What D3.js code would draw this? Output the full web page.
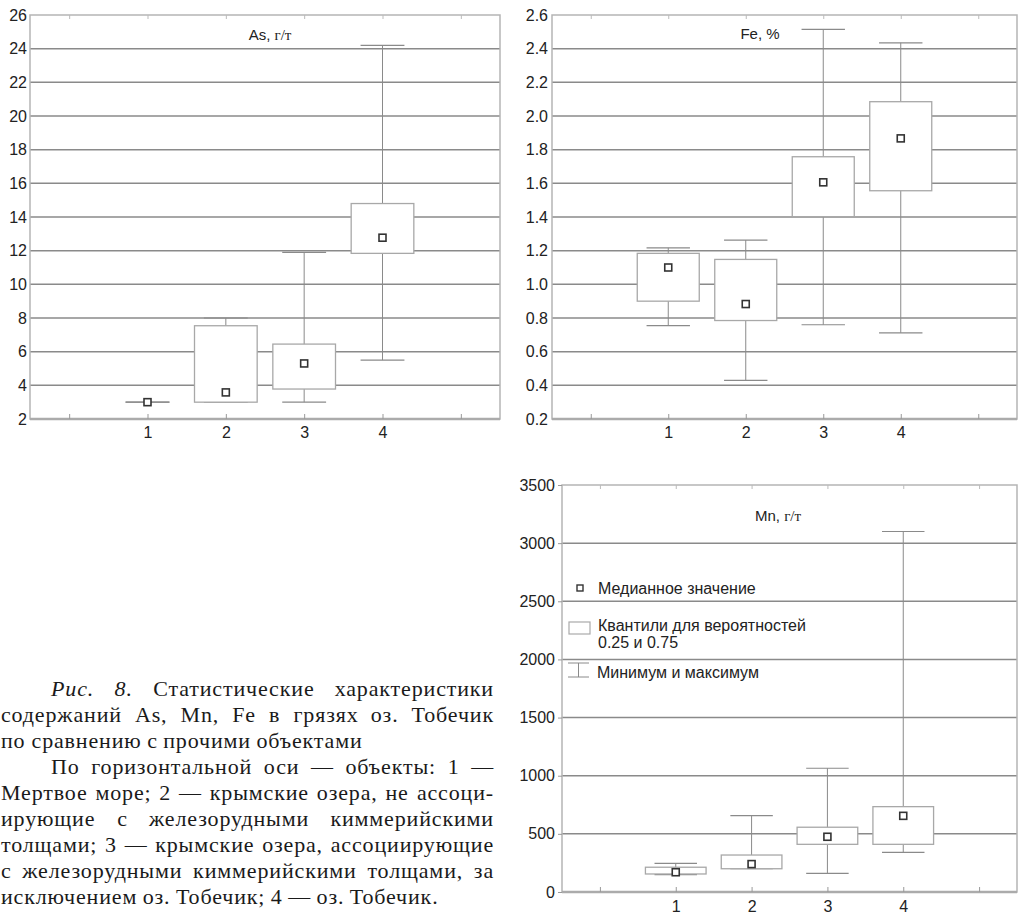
<!DOCTYPE html>
<html>
<head>
<meta charset="utf-8">
<script src="https://cdn.jsdelivr.net/npm/d3@7"></script>
<style>
  body { margin: 0; background: #fff; }
  svg { display: block; }
</style>
</head>
<body>
<div id="graph"></div>
<script>
// Categories on the x axis (objects 1..4)
var categories = [1, 2, 3, 4];

// As, g/t
var asMin = [3, 3, 3, 5.5];
var asQ1  = [3, 3, 3.78, 11.84];
var asMed = [3, 3.58, 5.3, 12.77];
var asQ3  = [3, 7.54, 6.45, 14.8];
var asMax = [3, 8, 11.9, 24.2];
var asTicks = [2, 4, 6, 8, 10, 12, 14, 16, 18, 20, 22, 24, 26];

// Fe, %
var feMin = [0.755, 0.43, 0.76, 0.712];
var feQ1  = [0.9, 0.785, 1.402, 1.556];
var feMed = [1.1, 0.883, 1.606, 1.867];
var feQ3  = [1.184, 1.148, 1.758, 2.085];
var feMax = [1.217, 1.263, 2.515, 2.435];
var feTicks = [0.2, 0.4, 0.6, 0.8, 1.0, 1.2, 1.4, 1.6, 1.8, 2.0, 2.2, 2.4, 2.6];

// Mn, g/t
var mnMin = [150, 200, 160, 340];
var mnQ1  = [155, 200, 410, 410];
var mnMed = [170, 240, 475, 655];
var mnQ3  = [213, 318, 557, 734];
var mnMax = [247, 656, 1064, 3100];
var mnTicks = [0, 500, 1000, 1500, 2000, 2500, 3000, 3500];

var legendLabels = ["Медианное значение", ["Квантили для вероятностей", "0.25 и 0.75"], "Минимум и максимум"];

var captionLines = [
    "Рис. 8. Статистические характеристики",
    "содержаний As, Mn, Fe в грязях оз. Тобечик",
    "по сравнению с прочими объектами",
    "По горизонтальной оси — объекты: 1 —",
    "Мертвое море; 2 — крымские озера, не ассоци-",
    "ирующие с железорудными киммерийскими",
    "толщами; 3 — крымские озера, ассоциирующие",
    "с железорудными киммерийскими толщами, за",
    "исключением оз. Тобечик; 4 — оз. Тобечик."
];

var sans = "'Liberation Sans', Arial, sans-serif";
var serif = "'Liberation Serif', 'Times New Roman', serif";

var svg = d3.select("#graph")
    .append("svg")
        .attr("width", 1019)
        .attr("height", 916);

function drawChart(opt) {
    var x = d3.scaleLinear().domain([-0.5, 5.5]).range([opt.left, opt.right]);
    var y = d3.scaleLinear().domain(d3.extent(opt.ticks)).range([opt.bottom, opt.top]);
    var step = x(1) - x(0);
    var g = svg.append("g");

    var rows = categories.map(function(c, i) {
        return { c: c, min: opt.min[i], q1: opt.q1[i], med: opt.med[i], q3: opt.q3[i], max: opt.max[i] };
    });

    // grid lines
    g.selectAll(".grid")
        .data(opt.ticks.slice(1, -1))
        .enter().append("line")
        .attr("x1", opt.left).attr("x2", opt.right)
        .attr("y1", function(d) { return y(d); })
        .attr("y2", function(d) { return y(d); })
        .attr("stroke", "#8a8a8a")
        .attr("stroke-width", 1.5);

    // frame
    g.append("rect")
        .attr("x", opt.left).attr("y", opt.top)
        .attr("width", opt.right - opt.left).attr("height", opt.bottom - opt.top)
        .attr("fill", "none")
        .attr("stroke", "#b5b5b5")
        .attr("stroke-width", 1.5);
    g.append("line")
        .attr("x1", opt.left).attr("x2", opt.right)
        .attr("y1", opt.bottom).attr("y2", opt.bottom)
        .attr("stroke", "#ababab")
        .attr("stroke-width", 2.5);

    // inward ticks, top and bottom
    var tickCats = [0, 1, 2, 3, 4, 5];
    g.append("g")
        .attr("transform", "translate(0," + opt.bottom + ")")
        .call(d3.axisBottom(x).tickValues(tickCats).tickSize(-5).tickFormat(""))
        .call(function(a) { a.select(".domain").remove(); a.selectAll("line").attr("stroke", "#999"); });
    g.append("g")
        .attr("transform", "translate(0," + opt.top + ")")
        .call(d3.axisTop(x).tickValues(tickCats).tickSize(-4).tickFormat(""))
        .call(function(a) { a.select(".domain").remove(); a.selectAll("line").attr("stroke", "#bbb"); });

    // x labels
    g.append("g")
        .attr("transform", "translate(0," + opt.bottom + ")")
        .call(d3.axisBottom(x).tickValues(categories).tickSize(0).tickPadding(opt.xPad).tickFormat(d3.format("d")))
        .call(function(a) {
            a.select(".domain").remove();
            a.selectAll("text").attr("font-family", sans).attr("font-size", 16).attr("fill", "#222");
        });

    // y axis
    g.append("g")
        .attr("transform", "translate(" + opt.left + ",0)")
        .call(d3.axisLeft(y).tickValues(opt.ticks).tickSize(opt.tickLen).tickPadding(opt.yPad).tickFormat(opt.fmt))
        .call(function(a) {
            a.select(".domain").remove();
            a.selectAll("line").attr("stroke", "#999");
            a.selectAll("text").attr("font-family", sans).attr("font-size", 16).attr("fill", "#222");
        });

    var boxW = step * 0.8, capW = step * 0.56;
    var box = g.selectAll(".box").data(rows).enter().append("g");

    box.append("line")
        .attr("x1", function(d) { return x(d.c); })
        .attr("x2", function(d) { return x(d.c); })
        .attr("y1", function(d) { return y(d.min); })
        .attr("y2", function(d) { return y(d.max); })
        .attr("stroke", "#8a8a8a").attr("stroke-width", 1);
    ["min", "max"].forEach(function(k) {
        box.append("line")
            .attr("x1", function(d) { return x(d.c) - capW / 2; })
            .attr("x2", function(d) { return x(d.c) + capW / 2; })
            .attr("y1", function(d) { return y(d[k]); })
            .attr("y2", function(d) { return y(d[k]); })
            .attr("stroke", "#8a8a8a").attr("stroke-width", 1.2);
    });
    box.append("rect")
        .attr("x", function(d) { return x(d.c) - boxW / 2; })
        .attr("width", boxW)
        .attr("y", function(d) { return y(d.q3); })
        .attr("height", function(d) { return y(d.q1) - y(d.q3); })
        .attr("fill", "#fff")
        .attr("stroke", "#a8a8a8").attr("stroke-width", 1.3);
    box.append("rect")
        .attr("x", function(d) { return x(d.c) - 3.5; })
        .attr("y", function(d) { return y(d.med) - 3.5; })
        .attr("width", 7).attr("height", 7)
        .attr("fill", "#fff")
        .attr("stroke", "#333").attr("stroke-width", 1.6);

    // title
    var t = g.append("text")
        .attr("x", opt.titleX).attr("y", opt.titleY)
        .attr("text-anchor", "middle")
        .attr("font-family", sans).attr("font-size", 15).attr("fill", "#222");
    t.append("tspan").text(opt.title[0]);
    if (opt.title[1]) t.append("tspan").attr("font-family", serif).attr("font-size", 15).text(opt.title[1]);

    return { g: g, x: x, y: y, step: step };
}

drawChart({
    left: 30, right: 500, top: 15, bottom: 419,
    ticks: asTicks, fmt: d3.format("d"), tickLen: 0, yPad: 3, xPad: 8,
    min: asMin, q1: asQ1, med: asMed, q3: asQ3, max: asMax,
    title: ["As, ", "г/т"], titleX: 270, titleY: 40
});

drawChart({
    left: 552, right: 1017, top: 15, bottom: 419,
    ticks: feTicks, fmt: d3.format(".1f"), tickLen: 0, yPad: 4, xPad: 8,
    min: feMin, q1: feQ1, med: feMed, q3: feQ3, max: feMax,
    title: ["Fe, %"], titleX: 760, titleY: 39
});

var mn = drawChart({
    left: 562, right: 1017, top: 485, bottom: 892,
    ticks: mnTicks, fmt: d3.format("d"), tickLen: 4, yPad: 3, xPad: 9,
    min: mnMin, q1: mnQ1, med: mnMed, q3: mnQ3, max: mnMax,
    title: ["Mn, ", "г/т"], titleX: 778, titleY: 521
});

// Legend inside the Mn chart
var lg = mn.g.append("g");
lg.append("rect").attr("x", 577).attr("y", 585).attr("width", 6).attr("height", 6)
    .attr("fill", "#fff").attr("stroke", "#333").attr("stroke-width", 1.4);
lg.append("rect").attr("x", 569).attr("y", 622).attr("width", 21).attr("height", 12)
    .attr("fill", "#fff").attr("stroke", "#aaa").attr("stroke-width", 1.2);
lg.append("line").attr("x1", 568).attr("x2", 589).attr("y1", 663).attr("y2", 663).attr("stroke", "#8a8a8a");
lg.append("line").attr("x1", 568).attr("x2", 589).attr("y1", 677).attr("y2", 677).attr("stroke", "#8a8a8a");
lg.append("line").attr("x1", 578.5).attr("x2", 578.5).attr("y1", 663).attr("y2", 677).attr("stroke", "#8a8a8a");

var lgText = lg.append("g").attr("font-family", sans).attr("font-size", 16).attr("fill", "#222");
lgText.append("text").attr("x", 598).attr("y", 594).text(legendLabels[0]);
lgText.append("text").attr("x", 598).attr("y", 631).text(legendLabels[1][0]);
lgText.append("text").attr("x", 598).attr("y", 648).text(legendLabels[1][1]);
lgText.append("text").attr("x", 597).attr("y", 678).text(legendLabels[2]);

// Caption, justified like the printed page
var capLeft = 1, capRight = 494, capIndent = 51, capTop = 696, capStep = 26;
var indentLines = [0, 3], lastLines = [2, 8];
var cap = svg.append("g")
    .attr("font-family", serif).attr("font-size", 22)
    .attr("letter-spacing", 0.85)
    .attr("fill", "#1a1a1a");

var spaceW = 5.5;

captionLines.forEach(function(line, i) {
    var x0 = indentLines.indexOf(i) >= 0 ? capIndent : capLeft;
    var words = line.split(" ");
    var t = cap.append("text").attr("y", capTop + i * capStep);
    var spans = words.map(function(w, j) {
        var s = t.append("tspan").text(w);
        if (i === 0 && j < 2) s.attr("font-style", "italic");
        return s;
    });
    var widths = spans.map(function(s) { return s.node().getComputedTextLength(); });
    var total = d3.sum(widths);
    var gap = lastLines.indexOf(i) >= 0 ? spaceW : (capRight - x0 - total) / (words.length - 1);
    var cx = x0;
    spans.forEach(function(s, j) {
        s.attr("x", cx);
        cx += widths[j] + gap;
    });
});
</script>
</body>
</html>
